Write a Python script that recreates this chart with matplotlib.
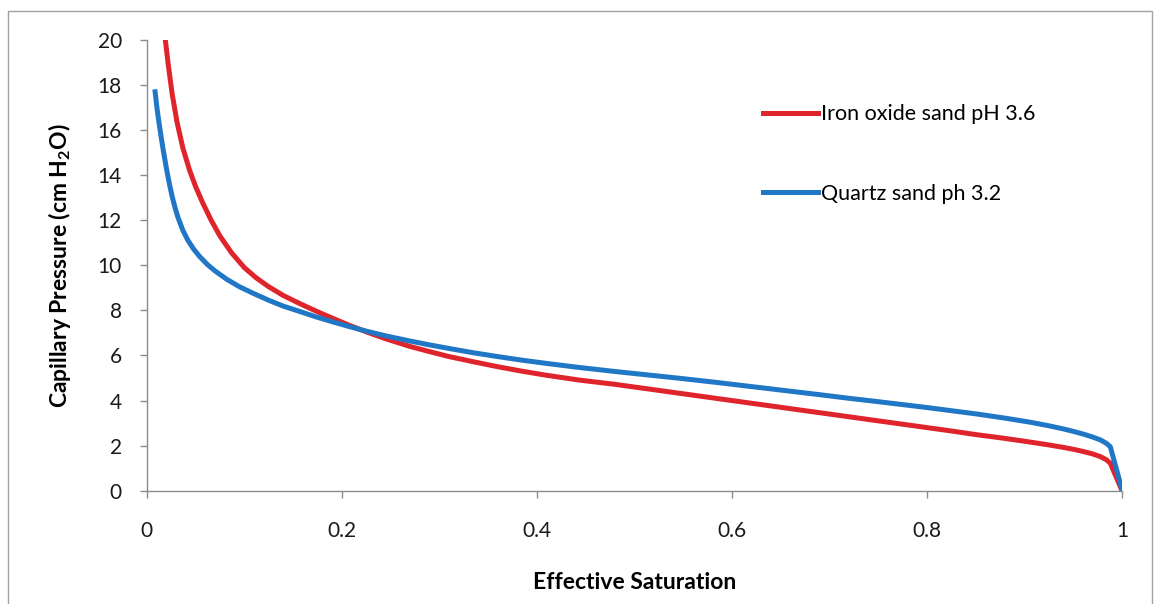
import matplotlib.pyplot as plt
from matplotlib.patches import Rectangle

# Capillary pressure - saturation curves read from the measurements
sat_iron = [0.019, 0.022, 0.026, 0.031, 0.037, 0.044, 0.05, 0.057, 0.066, 0.075,
            0.087, 0.10, 0.112, 0.125, 0.14, 0.157, 0.173, 0.19, 0.207, 0.225,
            0.245, 0.27, 0.29, 0.31, 0.335, 0.36, 0.385, 0.41, 0.445, 0.48,
            0.515, 0.55, 0.585, 0.62, 0.655, 0.69, 0.72, 0.75, 0.775, 0.80,
            0.825, 0.85, 0.88, 0.907, 0.925, 0.94, 0.952, 0.962, 0.97, 0.978,
            0.984, 0.988, 1.0]
pc_iron = [20.0, 18.9, 17.6, 16.35, 15.2, 14.2, 13.5, 12.8, 12.0, 11.3,
           10.55, 9.9, 9.45, 9.05, 8.66, 8.3, 7.98, 7.66, 7.35, 7.05,
           6.74, 6.4, 6.17, 5.95, 5.72, 5.5, 5.3, 5.12, 4.9, 4.72,
           4.51, 4.3, 4.09, 3.88, 3.67, 3.46, 3.28, 3.1, 2.95, 2.8,
           2.65, 2.49, 2.32, 2.15, 2.03, 1.92, 1.82, 1.72, 1.63, 1.51,
           1.37, 1.22, 0.0]

sat_quartz = [0.0085, 0.0105, 0.0126, 0.0145, 0.0165, 0.0185, 0.0202, 0.023, 0.026, 0.029,
              0.032, 0.037, 0.042, 0.048, 0.054, 0.062, 0.07, 0.082, 0.095, 0.11,
              0.125, 0.14, 0.157, 0.173, 0.19, 0.207, 0.225, 0.245, 0.27, 0.29,
              0.31, 0.335, 0.36, 0.385, 0.413, 0.445, 0.48, 0.515, 0.546, 0.585,
              0.62, 0.655, 0.69, 0.72, 0.75, 0.775, 0.80, 0.825, 0.85, 0.88,
              0.907, 0.925, 0.94, 0.952, 0.962, 0.97, 0.978, 0.984, 0.988, 1.0]
pc_quartz = [17.7, 16.95, 16.3, 15.75, 15.2, 14.7, 14.28, 13.65, 13.05, 12.55,
             12.12, 11.55, 11.12, 10.72, 10.4, 10.04, 9.75, 9.38, 9.05, 8.74,
             8.45, 8.19, 7.95, 7.72, 7.5, 7.29, 7.08, 6.87, 6.64, 6.47,
             6.31, 6.12, 5.95, 5.79, 5.63, 5.46, 5.29, 5.13, 4.99, 4.8,
             4.62, 4.44, 4.26, 4.1, 3.95, 3.82, 3.69, 3.55, 3.41, 3.22,
             3.03, 2.88, 2.74, 2.61, 2.49, 2.38, 2.25, 2.1, 1.95, 0.05]

labels = ['Iron oxide sand pH 3.6', 'Quartz sand ph 3.2']
colors = ['#e0242c', '#1f77c6']

plt.rcParams['font.family'] = ['Lato', 'DejaVu Sans']
plt.rcParams['mathtext.fontset'] = 'custom'
plt.rcParams['mathtext.rm'] = 'Lato'
plt.rcParams['mathtext.bf'] = 'Lato:bold'

fig = plt.figure(figsize=(11.56, 6.04), dpi=100)
ax = fig.add_axes([0.127, 0.1876, 0.8436, 0.7462])

ax.plot(sat_iron, pc_iron, color=colors[0], lw=3.6, label=labels[0], solid_joinstyle='round')
ax.plot(sat_quartz, pc_quartz, color=colors[1], lw=3.6, label=labels[1], solid_joinstyle='round')

ax.set_xlim(0, 1)
ax.set_ylim(0, 20)
ax.set_xticks([0, 0.2, 0.4, 0.6, 0.8, 1])
ax.set_xticklabels(['0', '0.2', '0.4', '0.6', '0.8', '1'])
ax.set_yticks(range(0, 21, 2))

for side in ['top', 'right']:
    ax.spines[side].set_visible(False)
for side in ['left', 'bottom']:
    ax.spines[side].set_color('#8c8c8c')
    ax.spines[side].set_linewidth(1.0)
ax.tick_params(axis='both', direction='out', length=5, width=1.0, color='#8c8c8c',
               labelsize=15, labelcolor='#1a1a1a')
ax.tick_params(axis='y', pad=13)
ax.tick_params(axis='x', pad=17)

ax.set_xlabel('Effective Saturation', fontsize=16.5, fontweight='bold', labelpad=22)
ax.set_ylabel(r'Capillary Pressure (cm H$_\mathbf{2}$O)', fontsize=16.5, fontweight='bold', labelpad=18)

ax.legend(loc='upper left', bbox_to_anchor=(0.632, 0.857), frameon=False, fontsize=15.5,
          handlelength=2.55, handletextpad=0.15, labelspacing=2.75, borderpad=0, borderaxespad=0)

# thin frame around the whole chart
fig.patches.append(Rectangle((8 / 1156, -0.01), 1144 / 1156, 1 - 11 / 604 + 0.01,
                             transform=fig.transFigure, fill=False, edgecolor='#a8a29c', lw=1.0))

fig.savefig('out.png', dpi=100)
